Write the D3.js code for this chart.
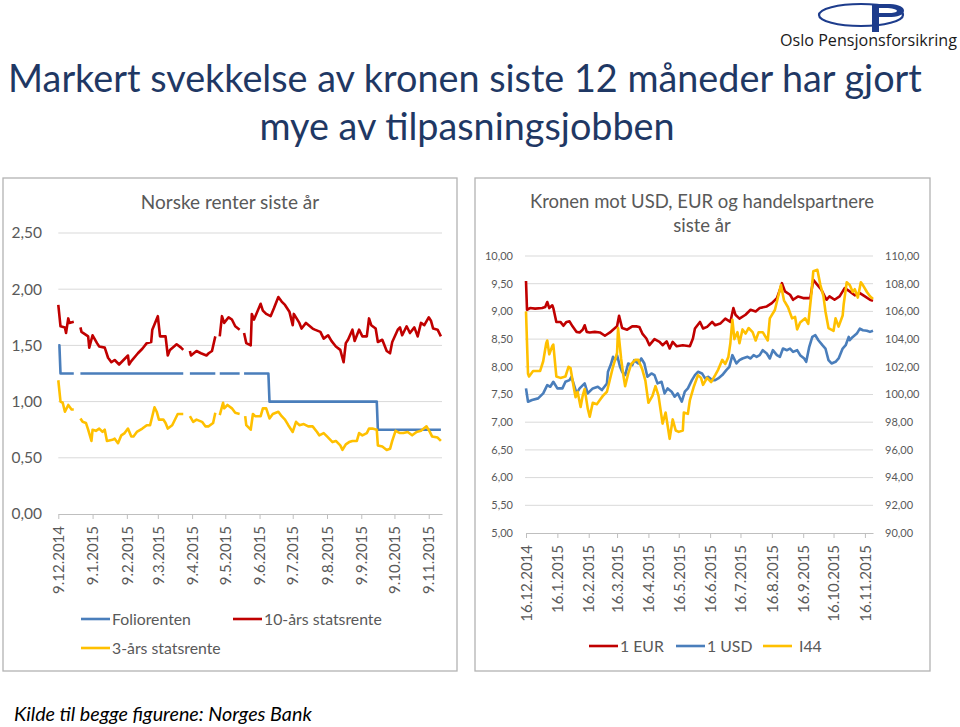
<!DOCTYPE html>
<html><head><meta charset="utf-8">
<script src="https://cdn.jsdelivr.net/npm/d3@7"></script>
<style>
body{margin:0;background:#fff;}
svg{display:block;font-family:Lato,"Open Sans",sans-serif;}
</style></head><body>
<svg id="c" width="960" height="727"></svg>
<script>
// ---------- DATA ----------
const leftTickDates = ["2014-12-09","2015-01-09","2015-02-09","2015-03-09","2015-04-09","2015-05-09","2015-06-09","2015-07-09","2015-08-09","2015-09-09","2015-10-09","2015-11-09"];
const leftYTicks = [0,0.5,1,1.5,2,2.5];
const leftLegend = ["Foliorenten","10-års statsrente","3-års statsrente"];

const foliorenten = [["2014-12-09",1.50],["2014-12-10",1.50],["2014-12-11",1.25],["2014-12-23",1.25],["2014-12-24",null],["2014-12-29",1.25],["2015-04-01",1.25],["2015-04-02",null],["2015-04-07",1.25],["2015-04-30",1.25],["2015-05-01",null],["2015-05-04",1.25],["2015-05-22",1.25],["2015-05-25",null],["2015-05-26",1.25],["2015-06-17",1.25],["2015-06-18",1.00],["2015-09-23",1.00],["2015-09-24",0.75],["2015-11-20",0.75]];

const tiAarsRente = [["2014-12-09",1.86],["2014-12-11",1.67],["2014-12-15",1.66],["2014-12-16",1.61],["2014-12-18",1.74],["2014-12-19",1.70],["2014-12-23",1.71],["2014-12-24",null],["2014-12-29",1.66],["2014-12-30",1.62],["2015-01-02",1.60],["2015-01-05",1.58],["2015-01-06",1.48],["2015-01-09",1.59],["2015-01-13",1.52],["2015-01-15",1.49],["2015-01-20",1.48],["2015-01-23",1.39],["2015-01-26",1.35],["2015-01-29",1.37],["2015-02-02",1.33],["2015-02-06",1.37],["2015-02-10",1.41],["2015-02-11",1.33],["2015-02-13",1.36],["2015-02-19",1.43],["2015-02-23",1.47],["2015-02-27",1.52],["2015-03-03",1.53],["2015-03-04",1.64],["2015-03-09",1.76],["2015-03-11",1.58],["2015-03-16",1.58],["2015-03-18",1.41],["2015-03-20",1.46],["2015-03-26",1.51],["2015-03-30",1.48],["2015-04-01",1.46],["2015-04-02",null],["2015-04-07",1.45],["2015-04-08",1.41],["2015-04-13",1.45],["2015-04-17",1.43],["2015-04-22",1.41],["2015-04-24",1.43],["2015-04-27",1.45],["2015-04-30",1.58],["2015-05-01",null],["2015-05-04",1.58],["2015-05-06",1.76],["2015-05-08",1.70],["2015-05-12",1.75],["2015-05-15",1.73],["2015-05-18",1.67],["2015-05-22",1.64],["2015-05-25",null],["2015-05-26",1.61],["2015-05-28",1.52],["2015-06-01",1.50],["2015-06-02",1.78],["2015-06-04",1.73],["2015-06-10",1.87],["2015-06-12",1.81],["2015-06-15",1.78],["2015-06-19",1.76],["2015-06-22",1.83],["2015-06-26",1.93],["2015-06-29",1.89],["2015-07-02",1.86],["2015-07-06",1.80],["2015-07-09",1.68],["2015-07-10",1.78],["2015-07-15",1.70],["2015-07-17",1.65],["2015-07-21",1.70],["2015-07-27",1.65],["2015-07-29",1.64],["2015-08-03",1.62],["2015-08-06",1.56],["2015-08-10",1.59],["2015-08-13",1.54],["2015-08-17",1.49],["2015-08-21",1.46],["2015-08-24",1.35],["2015-08-26",1.52],["2015-08-28",1.55],["2015-09-01",1.64],["2015-09-03",1.54],["2015-09-07",1.64],["2015-09-10",1.58],["2015-09-14",1.58],["2015-09-16",1.74],["2015-09-18",1.68],["2015-09-22",1.65],["2015-09-24",1.53],["2015-09-28",1.55],["2015-10-02",1.45],["2015-10-05",1.43],["2015-10-07",1.53],["2015-10-12",1.64],["2015-10-14",1.66],["2015-10-16",1.59],["2015-10-20",1.67],["2015-10-23",1.61],["2015-10-27",1.66],["2015-10-30",1.58],["2015-11-02",1.70],["2015-11-05",1.68],["2015-11-09",1.75],["2015-11-11",1.72],["2015-11-13",1.65],["2015-11-17",1.64],["2015-11-20",1.58]];

const treAarsRente = [["2014-12-09",1.19],["2014-12-11",1.00],["2014-12-13",0.99],["2014-12-15",0.91],["2014-12-18",0.97],["2014-12-21",0.93],["2014-12-23",0.93],["2014-12-24",null],["2014-12-29",0.85],["2014-12-31",0.82],["2015-01-03",0.81],["2015-01-05",0.75],["2015-01-08",0.65],["2015-01-09",0.75],["2015-01-12",0.74],["2015-01-15",0.76],["2015-01-18",0.73],["2015-01-20",0.75],["2015-01-22",0.65],["2015-01-27",0.66],["2015-01-29",0.67],["2015-02-01",0.63],["2015-02-04",0.70],["2015-02-07",0.72],["2015-02-10",0.76],["2015-02-13",0.69],["2015-02-15",0.69],["2015-02-18",0.73],["2015-02-23",0.76],["2015-02-27",0.79],["2015-03-02",0.79],["2015-03-04",0.87],["2015-03-06",0.95],["2015-03-08",0.91],["2015-03-10",0.84],["2015-03-14",0.84],["2015-03-16",0.81],["2015-03-18",0.76],["2015-03-22",0.79],["2015-03-25",0.85],["2015-03-27",0.89],["2015-04-01",0.89],["2015-04-02",null],["2015-04-07",0.87],["2015-04-10",0.82],["2015-04-13",0.84],["2015-04-18",0.82],["2015-04-21",0.78],["2015-04-24",0.78],["2015-04-28",0.81],["2015-04-30",0.90],["2015-05-01",null],["2015-05-04",0.88],["2015-05-07",0.99],["2015-05-08",0.94],["2015-05-11",0.97],["2015-05-15",0.94],["2015-05-18",0.90],["2015-05-22",0.89],["2015-05-25",null],["2015-05-27",0.87],["2015-05-28",0.79],["2015-06-01",0.75],["2015-06-03",0.89],["2015-06-05",0.87],["2015-06-10",0.87],["2015-06-12",0.94],["2015-06-15",0.94],["2015-06-18",0.85],["2015-06-21",0.89],["2015-06-26",0.91],["2015-06-29",0.87],["2015-07-02",0.84],["2015-07-05",0.79],["2015-07-09",0.73],["2015-07-12",0.82],["2015-07-15",0.79],["2015-07-19",0.80],["2015-07-23",0.78],["2015-07-27",0.78],["2015-07-31",0.73],["2015-08-02",0.70],["2015-08-06",0.72],["2015-08-09",0.69],["2015-08-14",0.64],["2015-08-17",0.65],["2015-08-21",0.61],["2015-08-23",0.57],["2015-08-26",0.62],["2015-08-29",0.64],["2015-09-01",0.65],["2015-09-05",0.65],["2015-09-07",0.72],["2015-09-10",0.70],["2015-09-14",0.72],["2015-09-16",0.76],["2015-09-19",0.76],["2015-09-23",0.75],["2015-09-24",0.61],["2015-09-28",0.60],["2015-10-02",0.57],["2015-10-05",0.58],["2015-10-07",0.65],["2015-10-10",0.74],["2015-10-14",0.72],["2015-10-17",0.72],["2015-10-21",0.73],["2015-10-25",0.70],["2015-10-29",0.73],["2015-11-02",0.74],["2015-11-07",0.78],["2015-11-10",0.73],["2015-11-12",0.69],["2015-11-17",0.68],["2015-11-20",0.65]];

const rightTickDates = ["2014-12-16","2015-01-16","2015-02-16","2015-03-16","2015-04-16","2015-05-16","2015-06-16","2015-07-16","2015-08-16","2015-09-16","2015-10-16","2015-11-16"];
const rightYTicksLeft = [5,5.5,6,6.5,7,7.5,8,8.5,9,9.5,10];
const rightYTicksRight = [90,92,94,96,98,100,102,104,106,108,110];
const rightLegend = ["1 EUR","1 USD","I44"];

const eur = [["2014-12-16",9.55],["2014-12-17",9.03],["2014-12-20",9.06],["2014-12-25",9.05],["2015-01-01",9.06],["2015-01-04",9.08],["2015-01-06",9.17],["2015-01-08",9.06],["2015-01-11",9.11],["2015-01-12",9.06],["2015-01-15",8.81],["2015-01-19",8.81],["2015-01-22",8.74],["2015-01-25",8.81],["2015-01-28",8.82],["2015-01-31",8.73],["2015-02-04",8.63],["2015-02-07",8.62],["2015-02-10",8.67],["2015-02-12",8.75],["2015-02-14",8.63],["2015-02-17",8.62],["2015-02-22",8.63],["2015-02-27",8.62],["2015-03-04",8.56],["2015-03-09",8.62],["2015-03-12",8.67],["2015-03-16",8.73],["2015-03-18",8.92],["2015-03-21",8.70],["2015-03-26",8.67],["2015-03-31",8.73],["2015-04-04",8.73],["2015-04-07",8.72],["2015-04-10",8.60],["2015-04-14",8.51],["2015-04-17",8.39],["2015-04-22",8.50],["2015-04-27",8.45],["2015-04-30",8.39],["2015-05-04",8.46],["2015-05-07",8.33],["2015-05-10",8.45],["2015-05-14",8.37],["2015-05-20",8.39],["2015-05-27",8.37],["2015-05-30",8.51],["2015-06-01",8.69],["2015-06-06",8.81],["2015-06-09",8.69],["2015-06-13",8.72],["2015-06-18",8.81],["2015-06-21",8.75],["2015-06-26",8.78],["2015-07-01",8.87],["2015-07-06",8.81],["2015-07-09",9.06],["2015-07-11",8.94],["2015-07-15",8.87],["2015-07-21",8.94],["2015-07-26",9.03],["2015-07-31",9.00],["2015-08-04",9.06],["2015-08-11",9.09],["2015-08-16",9.15],["2015-08-21",9.24],["2015-08-24",9.39],["2015-08-26",9.51],["2015-08-29",9.36],["2015-09-03",9.30],["2015-09-06",9.21],["2015-09-11",9.27],["2015-09-16",9.24],["2015-09-23",9.24],["2015-09-26",9.57],["2015-09-30",9.48],["2015-10-04",9.39],["2015-10-09",9.21],["2015-10-12",9.27],["2015-10-17",9.21],["2015-10-22",9.27],["2015-10-27",9.42],["2015-11-01",9.36],["2015-11-06",9.29],["2015-11-11",9.33],["2015-11-16",9.27],["2015-11-21",9.21],["2015-11-24",9.19]];

const usd = [["2014-12-16",7.61],["2014-12-18",7.37],["2014-12-22",7.40],["2014-12-28",7.43],["2015-01-02",7.52],["2015-01-06",7.67],["2015-01-09",7.64],["2015-01-12",7.73],["2015-01-16",7.61],["2015-01-21",7.61],["2015-01-24",7.73],["2015-01-28",7.76],["2015-01-30",7.82],["2015-02-04",7.52],["2015-02-07",7.61],["2015-02-12",7.70],["2015-02-15",7.52],["2015-02-20",7.61],["2015-02-25",7.64],["2015-03-01",7.58],["2015-03-06",7.70],["2015-03-07",7.91],["2015-03-10",8.05],["2015-03-12",8.18],["2015-03-14",8.12],["2015-03-16",8.21],["2015-03-19",8.00],["2015-03-21",7.91],["2015-03-24",7.85],["2015-03-27",8.06],["2015-03-31",8.03],["2015-04-02",8.12],["2015-04-06",8.06],["2015-04-09",8.15],["2015-04-12",8.06],["2015-04-15",7.82],["2015-04-19",7.88],["2015-04-22",7.85],["2015-04-25",7.70],["2015-04-29",7.73],["2015-05-02",7.52],["2015-05-05",7.61],["2015-05-09",7.55],["2015-05-12",7.46],["2015-05-15",7.52],["2015-05-19",7.37],["2015-05-22",7.55],["2015-05-25",7.61],["2015-05-29",7.76],["2015-06-01",7.85],["2015-06-04",7.91],["2015-06-08",7.88],["2015-06-11",7.79],["2015-06-14",7.82],["2015-06-18",7.76],["2015-06-21",7.76],["2015-06-24",7.79],["2015-06-28",7.85],["2015-07-02",7.94],["2015-07-05",8.00],["2015-07-08",8.21],["2015-07-12",8.06],["2015-07-15",8.12],["2015-07-18",8.15],["2015-07-23",8.18],["2015-07-26",8.15],["2015-07-29",8.21],["2015-08-01",8.18],["2015-08-04",8.21],["2015-08-07",8.30],["2015-08-11",8.24],["2015-08-14",8.15],["2015-08-17",8.30],["2015-08-21",8.21],["2015-08-24",8.18],["2015-08-27",8.33],["2015-08-31",8.30],["2015-09-03",8.33],["2015-09-06",8.27],["2015-09-10",8.30],["2015-09-13",8.21],["2015-09-17",8.15],["2015-09-19",8.09],["2015-09-22",8.36],["2015-09-25",8.54],["2015-09-28",8.57],["2015-10-01",8.48],["2015-10-05",8.39],["2015-10-08",8.33],["2015-10-11",8.12],["2015-10-14",8.06],["2015-10-18",8.09],["2015-10-21",8.15],["2015-10-25",8.33],["2015-10-28",8.39],["2015-10-31",8.54],["2015-11-01",8.48],["2015-11-04",8.54],["2015-11-08",8.60],["2015-11-11",8.69],["2015-11-14",8.66],["2015-11-18",8.65],["2015-11-21",8.63],["2015-11-24",8.65]];

const i44 = [["2014-12-16",106.0],["2014-12-18",101.5],["2014-12-19",101.3],["2014-12-23",101.7],["2014-12-30",101.7],["2015-01-02",102.4],["2015-01-05",103.7],["2015-01-06",103.9],["2015-01-08",102.9],["2015-01-11",103.5],["2015-01-12",103.6],["2015-01-15",101.3],["2015-01-19",101.2],["2015-01-24",101.3],["2015-01-27",102.0],["2015-01-29",101.9],["2015-02-01",100.6],["2015-02-03",99.8],["2015-02-05",100.2],["2015-02-08",99.1],["2015-02-10",99.9],["2015-02-12",100.4],["2015-02-15",99.0],["2015-02-17",98.4],["2015-02-20",99.4],["2015-02-24",99.3],["2015-02-27",99.6],["2015-03-02",99.9],["2015-03-06",100.2],["2015-03-09",101.1],["2015-03-12",102.0],["2015-03-16",103.0],["2015-03-17",104.8],["2015-03-20",102.6],["2015-03-22",101.5],["2015-03-24",100.6],["2015-03-27",101.5],["2015-03-30",102.2],["2015-04-03",102.5],["2015-04-06",102.5],["2015-04-10",101.8],["2015-04-13",101.0],["2015-04-16",99.4],["2015-04-20",99.9],["2015-04-23",100.6],["2015-04-26",99.9],["2015-04-30",97.9],["2015-05-03",98.7],["2015-05-07",96.8],["2015-05-10",98.2],["2015-05-13",97.4],["2015-05-16",97.3],["2015-05-20",97.4],["2015-05-21",98.7],["2015-05-25",98.6],["2015-05-27",99.6],["2015-05-31",100.6],["2015-06-04",101.4],["2015-06-07",101.2],["2015-06-09",100.7],["2015-06-13",101.2],["2015-06-17",100.9],["2015-06-21",101.4],["2015-06-24",101.8],["2015-06-28",102.5],["2015-07-01",102.2],["2015-07-04",102.7],["2015-07-06",103.7],["2015-07-08",105.4],["2015-07-10",104.0],["2015-07-13",104.5],["2015-07-15",103.7],["2015-07-18",104.7],["2015-07-21",104.4],["2015-07-24",104.8],["2015-07-28",104.5],["2015-07-31",103.9],["2015-08-03",104.5],["2015-08-07",104.5],["2015-08-12",103.9],["2015-08-14",105.5],["2015-08-19",106.1],["2015-08-22",107.0],["2015-08-25",107.9],["2015-08-28",106.8],["2015-09-01",106.3],["2015-09-05",105.5],["2015-09-08",105.6],["2015-09-10",104.7],["2015-09-13",105.2],["2015-09-18",105.5],["2015-09-21",105.1],["2015-09-24",107.2],["2015-09-26",108.9],["2015-09-30",109.0],["2015-10-03",107.9],["2015-10-06",107.1],["2015-10-08",106.0],["2015-10-11",104.8],["2015-10-16",104.6],["2015-10-18",105.5],["2015-10-21",104.9],["2015-10-25",105.7],["2015-10-26",106.5],["2015-10-29",108.1],["2015-11-01",107.9],["2015-11-04",107.4],["2015-11-06",107.6],["2015-11-09",107.0],["2015-11-12",108.1],["2015-11-14",107.9],["2015-11-18",107.4],["2015-11-21",107.1],["2015-11-24",106.9]];

// ---------- DRAW ----------
const parse = d3.timeParse("%Y-%m-%d");
const fmtDate = d => `${d.getDate()}.${d.getMonth()+1}.${d.getFullYear()}`;
const fmtNum = d => d3.format(".2f")(d).replace(".", ",");
const RED = "#C00000", BLUE = "#4A7EBB", YEL = "#FFC000";
const GRID = "#D9D9D9", TXT = "#595959", AX = "#BFBFBF";

const svg = d3.select("#c");
svg.append("rect").attr("width",960).attr("height",727).attr("fill","#fff");

function fit(sel, w){
  const len = sel.node().getComputedTextLength();
  const fs = parseFloat(sel.attr("font-size"));
  sel.attr("font-size", fs * w / len);
}

// Logo
const logo = svg.append("g");
logo.append("ellipse").attr("cx",861).attr("cy",15).attr("rx",42).attr("ry",11)
  .attr("fill","none").attr("stroke","#1D3C8C").attr("stroke-width",2.2);
logo.append("path").attr("fill","#1D3C8C")
  .attr("d","M872,4 L890,4 Q904,5 904,11 Q903,17 888,17 L879,17 L879,32 L872,32 Z");
logo.append("path").attr("fill","#fff")
  .attr("d","M879,8 L888,8 Q897,9 897,11 Q896,13 888,13 L879,13 Z");
const lt = logo.append("text").attr("x",780).attr("y",46).attr("font-size",17)
  .attr("fill","#1a1a1a").attr("font-family","'Open Sans',Lato,sans-serif").text("Oslo Pensjonsforsikring");
fit(lt, 177);

// Main title
const t1 = svg.append("text").attr("x",465).attr("y",92).attr("text-anchor","middle")
  .attr("font-size",40).attr("fill","#1F3864")
  .text("Markert svekkelse av kronen siste 12 måneder har gjort");
fit(t1, 914);
svg.append("text").attr("x",467).attr("y",140).attr("text-anchor","middle")
  .attr("font-size",t1.attr("font-size")).attr("fill","#1F3864").text("mye av tilpasningsjobben");

// Panels
svg.append("rect").attr("x",3).attr("y",178).attr("width",454).attr("height",493)
  .attr("fill","none").attr("stroke","#B3B3B3").attr("stroke-width",1.3);
svg.append("rect").attr("x",475).attr("y",178).attr("width",455).attr("height",493)
  .attr("fill","none").attr("stroke","#B3B3B3").attr("stroke-width",1.3);

function line(x, y){
  return d3.line().defined(d => d[1] != null).x(d => x(parse(d[0]))).y(d => y(d[1]));
}
function drawXAxis(g, x, ticks, yPos){
  const ax = g.append("g").attr("transform",`translate(0,${yPos})`)
    .call(d3.axisBottom(x).tickValues(ticks.map(parse)).tickFormat(fmtDate).tickSizeInner(5).tickSizeOuter(0));
  ax.select(".domain").attr("stroke",AX).attr("stroke-width",1);
  ax.selectAll(".tick line").attr("stroke",AX);
  ax.selectAll(".tick text").attr("transform","rotate(-90)").attr("text-anchor","end")
    .attr("x",-12).attr("y",0).attr("dy","0.35em").attr("fill",TXT)
    .attr("font-size",15).attr("font-family","Lato,sans-serif");
}

// ---------- LEFT CHART ----------
const L = svg.append("g");
const xL = d3.scaleTime().domain([parse("2014-12-09"), parse("2015-11-21")]).range([58.3, 442]);
const yL = d3.scaleLinear().domain([0, 2.5]).range([514, 233]);
L.append("text").attr("x",230).attr("y",209).attr("text-anchor","middle").attr("font-size",19)
  .attr("fill",TXT).text("Norske renter siste år");
L.selectAll(".g").data(leftYTicks.filter(v => v > 0)).join("line")
  .attr("x1",58.3).attr("x2",442).attr("y1",d => yL(d)).attr("y2",d => yL(d))
  .attr("stroke",GRID).attr("stroke-width",1);
L.selectAll(".yl").data(leftYTicks).join("text")
  .attr("x",42).attr("y",d => yL(d)).attr("dy","0.35em").attr("text-anchor","end")
  .attr("font-size",15.5).attr("fill",TXT).text(fmtNum);
drawXAxis(L, xL, leftTickDates, 514);
[[foliorenten,BLUE],[tiAarsRente,RED],[treAarsRente,YEL]].forEach(([data,col]) => {
  L.append("path").datum(data).attr("d", line(xL,yL)).attr("fill","none")
    .attr("stroke",col).attr("stroke-width",2.6).attr("stroke-linejoin","round");
});
const legL = [[leftLegend[0],BLUE,81,619],[leftLegend[1],RED,233,619],[leftLegend[2],YEL,81,648]];
legL.forEach(([name,col,x,y]) => {
  L.append("line").attr("x1",x).attr("x2",x+29).attr("y1",y).attr("y2",y).attr("stroke",col).attr("stroke-width",2.6);
  L.append("text").attr("x",x+31).attr("y",y).attr("dy","0.35em").attr("font-size",15.8).attr("fill",TXT).text(name);
});

// ---------- RIGHT CHART ----------
const R = svg.append("g");
const xR = d3.scaleTime().domain([parse("2014-12-16"), parse("2015-11-24")]).range([526, 873]);
const yR1 = d3.scaleLinear().domain([5, 10]).range([533, 256]);
const yR2 = d3.scaleLinear().domain([90, 110]).range([533, 256]);
R.append("text").attr("x",702).attr("y",208).attr("text-anchor","middle").attr("font-size",18.5)
  .attr("fill",TXT).text("Kronen mot USD, EUR og handelspartnere");
R.append("text").attr("x",702).attr("y",232).attr("text-anchor","middle").attr("font-size",18.5)
  .attr("fill",TXT).text("siste år");
R.selectAll(".g").data(rightYTicksLeft.filter(v => v > 5)).join("line")
  .attr("x1",525).attr("x2",873).attr("y1",d => yR1(d)).attr("y2",d => yR1(d))
  .attr("stroke",GRID).attr("stroke-width",1);
R.selectAll(".yl").data(rightYTicksLeft).join("text")
  .attr("x",513).attr("y",d => yR1(d)).attr("dy","0.35em").attr("text-anchor","end")
  .attr("font-size",11).attr("fill",TXT).text(fmtNum);
R.selectAll(".yr").data(rightYTicksRight).join("text")
  .attr("x",885).attr("y",d => yR2(d)).attr("dy","0.35em").attr("text-anchor","start")
  .attr("font-size",11).attr("fill",TXT).text(fmtNum);
drawXAxis(R, xR, rightTickDates, 533);
[[eur,RED,yR1],[usd,BLUE,yR1],[i44,YEL,yR2]].forEach(([data,col,y]) => {
  R.append("path").datum(data).attr("d", line(xR,y)).attr("fill","none")
    .attr("stroke",col).attr("stroke-width",2.6).attr("stroke-linejoin","round");
});
const legR = [[rightLegend[0],RED,589],[rightLegend[1],BLUE,676],[rightLegend[2],YEL,763]];
legR.forEach(([name,col,x]) => {
  R.append("line").attr("x1",x).attr("x2",x+29).attr("y1",646).attr("y2",646).attr("stroke",col).attr("stroke-width",2.6);
  R.append("text").attr("x",x + (name==="I44" ? 36 : 31)).attr("y",646).attr("dy","0.35em").attr("font-size",15.8).attr("fill",TXT).text(name);
});

// Source
const src = svg.append("text").attr("x",14).attr("y",721).attr("font-size",18).attr("font-style","italic")
  .attr("fill","#000").text("Kilde til begge figurene: Norges Bank");
fit(src, 298);
</script></body></html>
